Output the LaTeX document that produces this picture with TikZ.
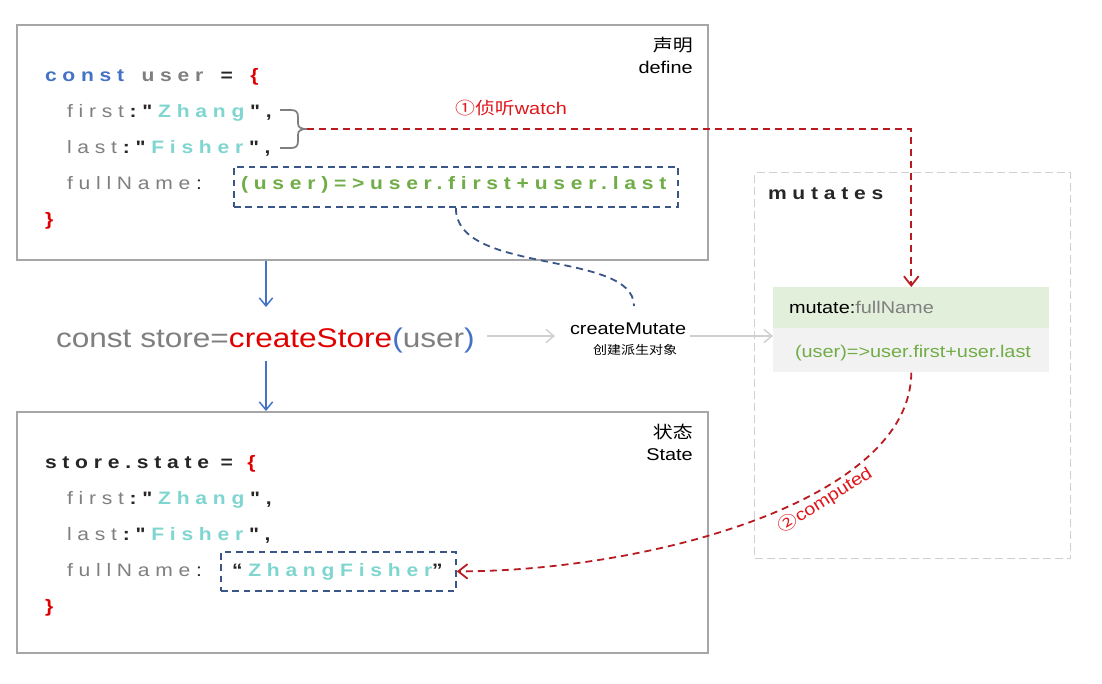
\documentclass[tikz,border=0pt]{standalone}
\usepackage{fontspec}
\setmainfont{Liberation Sans}[FakeStretch=1.17]
\newfontfamily\codefont{Liberation Sans}[FakeStretch=1.17,LetterSpace=32]
\newfontfamily\cjk{Noto Sans CJK SC}[FakeStretch=1.17]
\usetikzlibrary{arrows.meta}
\definecolor{boxgray}{HTML}{A6A6A6}
\definecolor{cgray}{HTML}{7F7F7F}
\definecolor{cblue}{HTML}{4472C4}
\definecolor{cteal}{HTML}{7FD6D0}
\definecolor{cgreen}{HTML}{70AD47}
\definecolor{cred}{HTML}{E00000}
\definecolor{cdark}{HTML}{262626}
\definecolor{lred}{HTML}{E0161B}
\definecolor{dred}{HTML}{B81C22}
\definecolor{navy}{HTML}{3A5588}
\definecolor{lgray}{HTML}{D0D0D0}
\definecolor{mgreen}{HTML}{E2EFDA}
\definecolor{mgrayfill}{HTML}{F2F2F2}
\newcommand\myfs[1]{\fontsize{#1}{#1}\selectfont}
\newcommand\ls{\kern4.3pt}
\begin{document}
\begin{tikzpicture}[x=0.75pt,y=-0.75pt,
  panel/.style={draw=boxgray,line width=1.4pt,inner sep=0pt,anchor=north west},
  txt/.style={anchor=base west,inner sep=0pt,outer sep=0pt},
  code/.style={txt,font=\codefont\myfs{13.5pt}},
  lbl/.style={anchor=base east,inner sep=0pt,font=\myfs{12.75pt}},
  navybox/.style={draw=navy,line width=1.35pt,dash pattern=on 5pt off 3.5pt,inner sep=0pt,anchor=north west},
  watchline/.style={draw=dred,line width=1.35pt,dash pattern=on 5.25pt off 3.75pt,-{Straight Barb[length=7pt,width=11pt]}},
  navyline/.style={draw=navy,line width=1.35pt,dash pattern=on 5.25pt off 3.75pt},
  barrow/.style={draw=cblue,line width=1.1pt,-{Straight Barb[length=6pt,width=10pt]}},
  garrow/.style={draw=lgray,line width=1.1pt,-{Straight Barb[length=6pt,width=10pt]}},
  mbox/.style={draw=lgray,line width=1.1pt,dash pattern=on 6pt off 3pt,inner sep=0pt,anchor=north west},
  cell/.style={inner sep=0pt,anchor=north west,minimum width=207pt}
]
\fill[white] (0,0) rectangle (1102,683);
\useasboundingbox (0,0) rectangle (1102,683);

% top panel
\node[panel,minimum width=518.25pt,minimum height=176.25pt] (top) at (16,24) {};
\node[lbl] (d1) at (693,51) {\cjk 声明};
\node[lbl] (d2) at (693,73) {define};
\node[code] (l1) at (45,81) {\bfseries\color{cblue}const\ls{} \color{cgray}user\ls{} \color{cdark}=\ls{} \color{cred}\{};
\node[code] (l2) at (67,117) {\color{cgray}first\ls\color{cdark}\bfseries:"\ls\color{cteal}Zhang\ls\color{cdark}",};
\node[code] (l3) at (67,153) {\color{cgray}last\ls\color{cdark}\bfseries:"\ls\color{cteal}Fisher\ls\color{cdark}",};
\node[code] (l4) at (67,189) {\color{cgray}fullName\ls\color{cdark}:};
\node[navybox,minimum width=333pt,minimum height=30pt] (lam) at (233,166) {};
\node[code] (lt) at (241,189) {\bfseries\color{cgreen}(user)=>user.first+user.last};
\node[code] (l5) at (45,225) {\bfseries\color{cred}\}};

% brace
\coordinate (bt) at (307,129);
\draw[cgray,line width=1.3pt] (280,110) -- (291,110) .. controls (296,110) and (298,112) .. (298,117) -- (298,123) .. controls (298,127) and (300,129) .. (bt);
\draw[cgray,line width=1.3pt] (280,148) -- (291,148) .. controls (296,148) and (298,146) .. (298,141) -- (298,135) .. controls (298,131) and (300,129) .. (bt);

% middle line
\node[txt,font=\myfs{20.25pt}] (store) at (56,347) {\color{cgray}const store=\color{cred}createStore\color{cblue}(\color{cgray}user\color{cblue})};
\node[txt,font=\myfs{12.75pt}] (cm) at (570,334) {createMutate};
\node[txt,font=\cjk\myfs{9pt}] (cmz) at (593,354) {创建派生对象};
\coordinate (a1) at (266,307);
\coordinate (a2) at (266,361);
\coordinate (g1) at (487,336);
\coordinate (g2) at (690,336);
\coordinate (cmt) at (634,306);

% mutates
\node[mbox,minimum width=237pt,minimum height=289.5pt] (mut) at (754,172) {};
\node[code,text=cdark] (mutl) at (768,199) {\bfseries mutates};
\node[cell,fill=mgreen,minimum height=30.75pt] (mg) at (773,287) {};
\node[cell,fill=mgrayfill,minimum height=33pt] (mgr) at (773,328) {};
\node[txt,font=\myfs{12.75pt}] (mt) at (789,313) {mutate:\color{cgray}fullName};
\node[txt,font=\myfs{12.75pt},text=cgreen] (ml) at (795,357) {(user)=>user.first+user.last};

% bottom panel
\node[panel,minimum width=518.25pt,minimum height=180.75pt] (bot) at (16,411) {};
\node[lbl] (e1) at (693,438) {\cjk 状态};
\node[lbl] (e2) at (693,460) {State};
\node[code] (s1) at (45,468) {\bfseries\color{cdark}store.state =\kern2pt{} \color{cred}\{};
\node[code] (s2) at (67,504) {\color{cgray}first\ls\color{cdark}\bfseries:"\ls\color{cteal}Zhang\ls\color{cdark}",};
\node[code] (s3) at (67,540) {\color{cgray}last\ls\color{cdark}\bfseries:"\ls\color{cteal}Fisher\ls\color{cdark}",};
\node[code] (s4) at (67,576) {\color{cgray}fullName\ls\color{cdark}:};
\node[navybox,minimum width=176.25pt,minimum height=29.25pt] (fb) at (220,551) {};
\node[code] (s5) at (232,576) {\bfseries\color{cdark}“\ls\color{cteal}ZhangFisher\color{cdark}”};
\node[code] (s6) at (45,612) {\bfseries\color{cred}\}};

% connectors
\draw[barrow] (top.south -| a1) -- (a1);
\draw[barrow] (a2) -- (a2 |- bot.north);
\draw[garrow,shorten >=11.25pt] (g1) -- (g1 -| cm.west);
\draw[garrow] (g2) -- (g2 -| mg.west);
\draw[watchline] (bt) -| (mg.north);
\node[anchor=base,inner sep=0pt,font=\myfs{12.75pt},text=lred] (wl) at (511,114) {{\cjk ①侦听}watch};
\draw[navyline] (lam.south) .. controls (455,275) and (634,250) .. (cmt);
\draw[watchline] (mgr.south) .. controls (911,500) and (650,571) .. (fb.east);
\node[rotate=32,inner sep=0pt,font=\myfs{12.75pt},text=lred] (cl) at (825,500) {{\cjk ②}computed};
\end{tikzpicture}
\end{document}
